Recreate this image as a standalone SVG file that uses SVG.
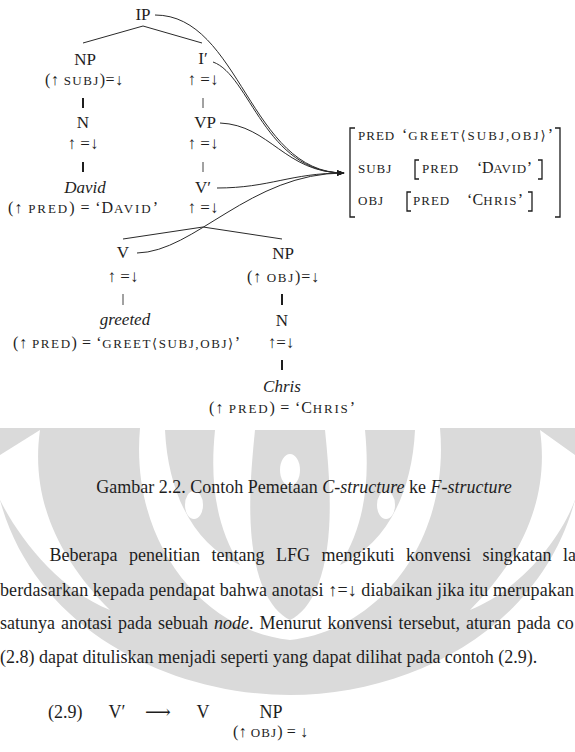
<svg xmlns="http://www.w3.org/2000/svg" width="575" height="752" viewBox="0 0 575 752">
<style>
text{font-family:"Liberation Serif","DejaVu Serif",serif;fill:#1e1e1e}
.lbl{font-size:17px;text-anchor:middle}
.it{font-style:italic;font-size:17px;text-anchor:middle}
.ann{font-size:16px}
.arr{font-size:17px;text-anchor:middle}
.mid{text-anchor:middle}
.sc{font-size:13px;letter-spacing:1px}
.p{font-size:18px}
.tl{stroke:#2a2a2a;stroke-width:1;fill:none}
.bar{stroke:#1e1e1e;stroke-width:2}
.bar1{stroke:#444;stroke-width:1}
.br{stroke:#1e1e1e;stroke-width:1.3;fill:none}
.wm{fill:#dadada}
.wh{fill:#fff}
</style>
<defs>
<marker id="ah" viewBox="0 0 8 6" refX="7.5" refY="3" markerWidth="8" markerHeight="6" orient="auto" markerUnits="userSpaceOnUse"><path d="M0,0 L8,3 L0,6 z" fill="#1e1e1e"/></marker>
</defs>
<rect width="575" height="752" fill="#fff"/>
<g id="watermark">
<path class="wm" d="M0,428 L140,428 C130,540 200,630 290,640 C380,630 450,540 440,428 L575,428 L575,500 C540,630 410,695 290,695 C170,695 35,630 0,500 Z"/>
<path class="wh" d="M0,455 L40,430 C30,500 60,560 110,610 C60,590 20,540 0,500 Z"/>
<path class="wh" d="M575,455 L540,430 C550,500 520,560 470,610 C520,590 560,540 575,500 Z"/>
<path class="wm" d="M165,430 L215,430 C210,480 215,525 240,565 C195,545 168,495 165,430 Z"/>
<path class="wm" d="M415,430 L365,430 C370,480 365,525 340,565 C385,545 412,495 415,430 Z"/>
<path class="wm" d="M255,430 L325,430 C330,480 335,540 318,585 C310,605 300,615 290,620 C280,615 270,605 262,585 C245,540 250,480 255,430 Z"/>
<ellipse class="wh" cx="194" cy="505" rx="9" ry="14"/>
<ellipse class="wh" cx="386" cy="505" rx="9" ry="14"/>
<ellipse class="wh" cx="290" cy="470" rx="10" ry="16"/>
</g>
<g id="connectors">
<line class="tl" x1="143" y1="26" x2="83" y2="43"/>
<line class="tl" x1="143" y1="26" x2="202" y2="43"/>
<line class="bar" x1="83" y1="98" x2="83" y2="108"/>
<line class="bar" x1="83" y1="162" x2="83" y2="172"/>
<line class="bar1" x1="203" y1="98" x2="203" y2="108"/>
<line class="bar1" x1="203" y1="162" x2="203" y2="172"/>
<line class="tl" x1="203" y1="227" x2="123" y2="239"/>
<line class="tl" x1="203" y1="227" x2="282" y2="239"/>
<line class="bar1" x1="123" y1="294" x2="123" y2="305"/>
<line class="bar" x1="282" y1="294" x2="282" y2="305"/>
<line class="bar" x1="282" y1="360" x2="282" y2="370"/>
<path class="tl" d="M155,15 C240,15 250,173 344,173" marker-end="url(#ah)"/>
<path class="tl" d="M213,62 C250,75 265,173 344,173" marker-end="url(#ah)"/>
<path class="tl" d="M220,123 C270,125 285,173 344,173" marker-end="url(#ah)"/>
<path class="tl" d="M217,188 C270,188 290,173 344,173" marker-end="url(#ah)"/>
<path class="tl" d="M137,253 C195,252 250,173 344,173" marker-end="url(#ah)"/>
</g>
<g id="n-ip"><text class="lbl" x="143" y="20">IP</text></g>
<g id="n-np-subj"><text class="lbl" x="85" y="65">NP</text><text class="ann" x="45" y="85" textLength="78" lengthAdjust="spacing">(↑ <tspan class="sc">SUBJ</tspan>)=↓</text></g>
<g id="n-n-david"><text class="lbl" x="83" y="128">N</text><text class="arr" x="83" y="149">↑ =↓</text></g>
<g id="n-david"><text class="it" x="85" y="193">David</text><text class="ann" x="8" y="213" textLength="150" lengthAdjust="spacing">(↑  <tspan class="sc">PRED</tspan>) = ‘D<tspan class="sc">AVID</tspan>’</text></g>
<g id="n-ibar"><text class="lbl" x="203" y="64">I′</text><text class="arr" x="203" y="85">↑ =↓</text></g>
<g id="n-vp"><text class="lbl" x="205" y="128">VP</text><text class="arr" x="203" y="149">↑ =↓</text></g>
<g id="n-vbar"><text class="lbl" x="203" y="193">V′</text><text class="arr" x="203" y="213">↑ =↓</text></g>
<g id="n-v"><text class="lbl" x="123" y="258">V</text><text class="arr" x="123" y="282">↑ =↓</text></g>
<g id="n-greeted"><text class="it" x="125" y="325">greeted</text><text class="ann" x="13" y="348" textLength="227" lengthAdjust="spacing">(↑  <tspan class="sc">PRED</tspan>) = ‘<tspan class="sc">GREET⟨SUBJ,OBJ⟩</tspan>’</text></g>
<g id="n-np-obj"><text class="lbl" x="283" y="259">NP</text><text class="ann" x="247" y="282" textLength="72" lengthAdjust="spacing">(↑ <tspan class="sc">OBJ</tspan>)=↓</text></g>
<g id="n-n-chris"><text class="lbl" x="282" y="326">N</text><text class="arr" x="281" y="348">↑=↓</text></g>
<g id="n-chris"><text class="it" x="282" y="392">Chris</text><text class="ann" x="209" y="413" textLength="146" lengthAdjust="spacing">(↑  <tspan class="sc">PRED</tspan>) = ‘C<tspan class="sc">HRIS</tspan>’</text></g>
<g id="f-structure">
<path class="br" d="M355,128 L350,128 L350,217 L355,217"/>
<path class="br" d="M555,128 L560,128 L560,217 L555,217"/>
<text class="ann" x="358" y="140"><tspan class="sc">PRED</tspan></text>
<text class="ann" x="402" y="140" textLength="151" lengthAdjust="spacing">‘<tspan class="sc">GREET⟨SUBJ,OBJ⟩</tspan>’</text>
<text class="ann" x="358" y="173"><tspan class="sc">SUBJ</tspan></text>
<path class="br" d="M419,160 L415,160 L415,179 L419,179"/>
<text class="ann" x="422" y="173"><tspan class="sc">PRED</tspan></text>
<text class="ann" x="477" y="173" textLength="55" lengthAdjust="spacing">‘D<tspan class="sc">AVID</tspan>’</text>
<path class="br" d="M538,160 L542,160 L542,179 L538,179"/>
<text class="ann" x="358" y="205"><tspan class="sc">OBJ</tspan></text>
<path class="br" d="M411,192 L407,192 L407,211 L411,211"/>
<text class="ann" x="413" y="205"><tspan class="sc">PRED</tspan></text>
<text class="ann" x="467" y="205" textLength="56" lengthAdjust="spacing">‘C<tspan class="sc">HRIS</tspan>’</text>
<path class="br" d="M528,192 L532,192 L532,211 L528,211"/>
</g>
<g id="caption"><text class="p" x="304" y="493" text-anchor="middle">Gambar 2.2. Contoh Pemetaan <tspan font-style="italic">C-structure</tspan> ke <tspan font-style="italic">F-structure</tspan></text></g>
<g id="paragraph">
<text class="p" x="49.5" y="561" word-spacing="7">Beberapa penelitian tentang LFG mengikuti konvensi singkatan la</text>
<text class="p" x="0" y="596" textLength="574" lengthAdjust="spacing">berdasarkan kepada pendapat bahwa anotasi ↑=↓ diabaikan jika itu merupakan</text>
<text class="p" x="0" y="629" word-spacing="1.5">satunya anotasi pada sebuah <tspan font-style="italic">node</tspan>. Menurut konvensi tersebut, aturan pada co</text>
<text class="p" x="0" y="663">(2.8) dapat dituliskan menjadi seperti yang dapat dilihat pada contoh (2.9).</text>
</g>
<g id="example">
<text class="p" x="48" y="718">(2.9)</text>
<text class="p" x="117" y="718" text-anchor="middle">V′</text>
<text class="p" x="158" y="718" text-anchor="middle">⟶</text>
<text class="p" x="203" y="718" text-anchor="middle">V</text>
<text class="p" x="271" y="718" text-anchor="middle">NP</text>
<text class="ann" x="233" y="737" textLength="75" lengthAdjust="spacing">(↑ <tspan class="sc">OBJ</tspan>) = ↓</text>
</g>
</svg>
